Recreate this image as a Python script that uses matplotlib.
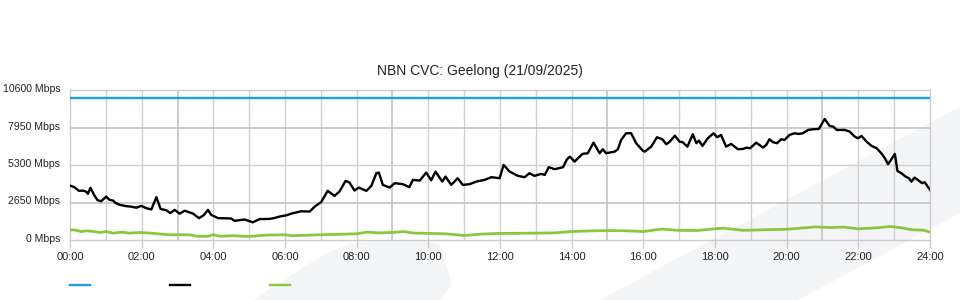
import matplotlib
matplotlib.use("Agg")
import matplotlib.pyplot as plt
import matplotlib.transforms as mtransforms
from matplotlib.patches import Polygon
from matplotlib.lines import Line2D

plt.rcParams['font.family'] = ['Liberation Sans', 'DejaVu Sans']

title = "NBN CVC: Geelong (21/09/2025)"
y_ticks = [0, 2650, 5300, 7950, 10600]
y_tick_labels = ["0 Mbps", "2650 Mbps", "5300 Mbps", "7950 Mbps", "10600 Mbps"]
x_ticks = list(range(0, 25, 2))
x_tick_labels = ["%02d:00" % h for h in x_ticks]

capacity_hours = [0, 24]
capacity_values = [10000, 10000]

traffic_hours = [
    0.00, 0.12, 0.25, 0.36, 0.45, 0.50, 0.57, 0.68, 0.77, 0.87, 1.01, 1.10, 1.20, 1.27,
    1.40, 1.55, 1.70, 1.85, 1.99, 2.13, 2.27, 2.41, 2.53, 2.68, 2.80, 2.92, 3.06, 3.20,
    3.43, 3.60, 3.73, 3.85, 3.94, 4.13, 4.50, 4.59, 4.87, 5.10, 5.29, 5.57, 5.70, 5.85,
    6.03, 6.22, 6.30, 6.45, 6.69, 6.83, 7.01, 7.19, 7.38, 7.52, 7.69, 7.80, 7.94, 8.06,
    8.27, 8.41, 8.55, 8.62, 8.73, 8.92, 9.06, 9.29, 9.47, 9.57, 9.76, 9.94, 10.08, 10.20,
    10.39, 10.48, 10.64, 10.82, 10.96, 11.15, 11.34, 11.57, 11.76, 11.99, 12.10, 12.27,
    12.50, 12.69, 12.82, 12.96, 13.15, 13.25, 13.36, 13.53, 13.76, 13.87, 13.95, 14.08,
    14.30, 14.45, 14.61, 14.78, 14.87, 14.96, 15.20, 15.29, 15.38, 15.52, 15.66, 15.80,
    15.99, 16.04, 16.22, 16.38, 16.53, 16.64, 16.74, 16.88, 17.01, 17.10, 17.23, 17.38,
    17.48, 17.55, 17.65, 17.80, 17.96, 18.06, 18.17, 18.31, 18.45, 18.64, 18.78, 18.88,
    18.98, 19.15, 19.34, 19.43, 19.52, 19.62, 19.73, 19.85, 19.94, 20.08, 20.22, 20.34,
    20.45, 20.60, 20.73, 20.90, 21.06, 21.20, 21.30, 21.40, 21.62, 21.76, 21.90, 21.99,
    22.09, 22.23, 22.37, 22.51, 22.64, 22.74, 22.83, 23.02, 23.09, 23.20, 23.32, 23.41,
    23.48, 23.57, 23.66, 23.78, 23.85, 24.00]
traffic_values = [
    3846, 3733, 3472, 3490, 3420, 3260, 3690, 3150, 2810, 2740, 3070, 2840, 2790, 2620,
    2480, 2400, 2360, 2280, 2413, 2251, 2160, 3027, 2190, 2110, 1900, 2131, 1860, 2070,
    1870, 1545, 1750, 2131, 1778, 1545, 1520, 1355, 1450, 1250, 1475, 1490, 1550, 1658,
    1740, 1898, 1941, 2030, 2011, 2364, 2680, 3472, 3119, 3423, 4178, 4058, 3493, 3705,
    3472, 3825, 4721, 4763, 3895, 3705, 4015, 3945, 3733, 4248, 4199, 4763, 4220, 4834,
    4128, 4481, 3895, 4368, 3895, 3945, 4128, 4248, 4439, 4368, 5307, 4834,
    4531, 4439, 4721, 4531, 4672, 4601, 5145, 5003, 5145, 5709, 5893, 5540,
    6083, 6133, 6881, 6133, 6415, 6133, 6245, 6415, 7071, 7544, 7544, 6838,
    6300, 6245, 6598, 7262, 7121, 6768, 6951, 7375, 6951, 6909, 6598, 7474,
    6838, 7022, 6648, 7191, 7544, 7262, 7424, 6598, 6789, 6415, 6436, 6528,
    6485, 6881, 6528, 6718, 7121, 6909, 6838, 7121, 7071, 7424, 7544, 7494,
    7544, 7777, 7826, 7850, 8553, 8059, 8010, 7777, 7777, 7657, 7304, 7191,
    7353, 6951, 6648, 6485, 6133, 5780, 5356, 6083, 4883, 4721, 4481, 4368,
    4128, 4410, 4248, 4015, 4086, 3543]

upload_hours = [
    0.0, 0.15, 0.3, 0.5, 0.85, 1.0, 1.2, 1.45, 1.65, 1.95, 2.25, 2.45, 2.8, 3.35, 3.55,
    3.85, 4.0, 4.2, 4.55, 5.0, 5.5, 6.0, 6.2, 6.9, 7.5, 8.0, 8.3, 8.6, 9.0, 9.3, 9.6,
    10.0, 10.5, 11.0, 11.5, 12.0, 12.5, 13.0, 13.5, 14.0, 14.5, 15.0, 15.5, 16.0, 16.5,
    17.0, 17.5, 18.2, 18.8, 19.3, 20.0, 20.5, 20.8, 21.2, 21.6, 22.0, 22.5, 22.9, 23.2,
    23.5, 23.8, 24.0]
upload_values = [
    720, 700, 600, 650, 530, 600, 487, 557, 487, 530, 487, 437, 367, 367, 260,
    260, 367, 260, 300, 250, 350, 367, 300, 367, 400, 440, 560, 500, 530, 600, 490,
    468, 437, 318, 420, 470, 470, 490, 500, 600, 640, 670, 650, 600, 770,
    680, 670, 840, 680, 720, 760, 860, 930, 880, 910, 790, 860, 953, 860,
    720, 700, 557]

W, H = 960, 300
fig = plt.figure(figsize=(9.6, 3.0), dpi=100)
fig.patch.set_facecolor('white')


def px(x, y):
    return (x / W, 1 - y / H)


wm = '#f4f5f7'
band = [px(600, 300), px(960, 106.7), px(960, 213), px(798, 300)]
fig.patches.append(Polygon(band, closed=True, transform=fig.transFigure,
                           facecolor=wm, edgecolor='none', zorder=-5))
swoosh = [px(253, 300), px(270, 289), px(290, 276), px(310, 263), px(327, 253),
          px(345, 246), px(360, 242), px(380, 240), px(427, 240), px(440, 245),
          px(452, 285), px(440, 300)]
fig.patches.append(Polygon(swoosh, closed=True, transform=fig.transFigure,
                           facecolor=wm, edgecolor='none', zorder=-5))

ax = fig.add_axes([70 / W, 60 / H, 860 / W, 150 / H])
ax.set_facecolor('none')
ax.set_xlim(0, 24)
ax.set_ylim(0, 10600)

# grid
for h in range(1, 24):
    thick = h % 6 == 3
    ax.axvline(h, color='#c8c8c8' if thick else '#d0d0d0', lw=1.3 if thick else 1.0, zorder=1)
for v in y_ticks[1:-1]:
    thick = v in (2650, 7950)
    ax.axhline(v, color='#c8c8c8' if thick else '#d0d0d0', lw=1.3 if thick else 1.0, zorder=1)

for s in ax.spines.values():
    s.set_color('#cccccc')
    s.set_linewidth(1.0)

ax.plot(capacity_hours, capacity_values, color='#1ba1e2', lw=1.7, zorder=3)
ax.plot(upload_hours, upload_values, color='#8cc63f', lw=2.0, zorder=3)
ax.plot(traffic_hours, traffic_values, color='#000000', lw=1.7, zorder=4)

ax.set_xticks(x_ticks)
ax.set_xticklabels(x_tick_labels)
ax.set_yticks(y_ticks)
ax.set_yticklabels(y_tick_labels)
ax.tick_params(axis='x', length=6, width=1, color='#cccccc', pad=3, labelsize=8, labelcolor='#222222')
ax.tick_params(axis='y', length=0, pad=7, labelsize=7.6, labelcolor='#222222')
shift = mtransforms.ScaledTranslation(0, 2 / 100, fig.dpi_scale_trans)
for lbl in ax.get_yticklabels():
    lbl.set_transform(lbl.get_transform() + shift)

fig.text(0.5, 1 - 71 / H, title, ha='center', va='center', fontsize=10, color='#222222')

legend_colors = ['#1ba1e2', '#000000', '#8cc63f']
for i, c in enumerate(legend_colors):
    x0 = 70 + i * 100
    fig.lines.append(Line2D([x0 / W, (x0 + 20) / W], [1 - 285 / H, 1 - 285 / H],
                            transform=fig.transFigure, color=c, lw=1.7))

fig.savefig('out.png', dpi=100)
